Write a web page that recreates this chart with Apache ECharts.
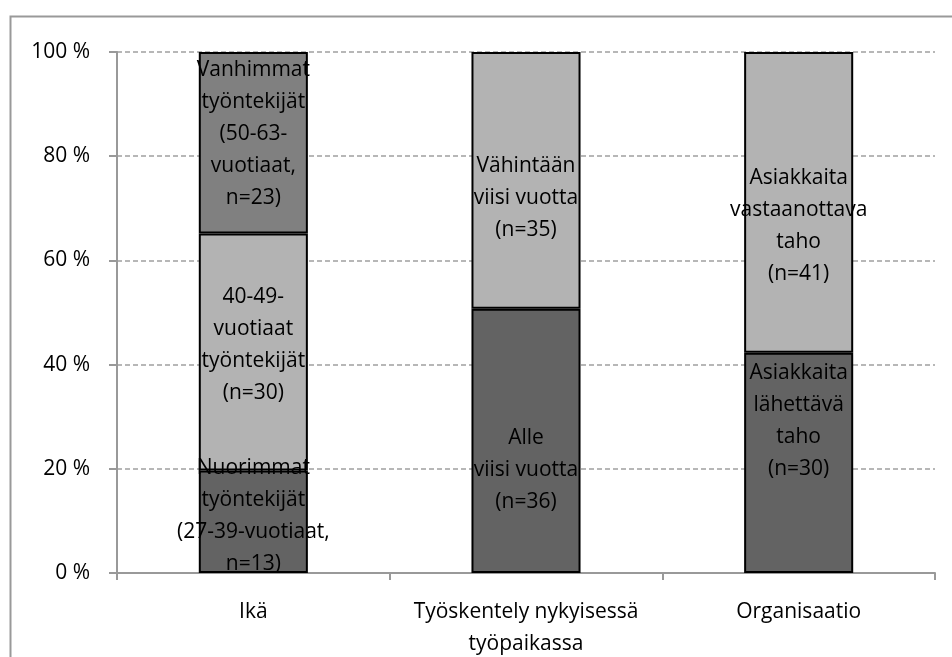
<!DOCTYPE html>
<html>
<head>
<meta charset="utf-8">
<script src="https://cdn.jsdelivr.net/npm/echarts@6/dist/echarts.min.js"></script>
<style>html,body{margin:0;padding:0;background:#fff}#c{width:952px;height:657px}</style>
</head>
<body>
<div id="c"></div>
<script>
const categories = ['Ikä', 'Työskentely nykyisessä\ntyöpaikassa', 'Organisaatio'];
// counts (n) per segment, bottom to top
const bottomCounts = [13, 36, 30];
const middleCounts = [30, 35, 41];
const topCounts = [23, null, null];
const bottomLabels = ['Nuorimmat\ntyöntekijät\n(27-39-vuotiaat,\nn=13)', 'Alle\nviisi vuotta\n(n=36)', 'Asiakkaita\nlähettävä\ntaho\n(n=30)'];
const middleLabels = ['40-49-\nvuotiaat\ntyöntekijät\n(n=30)', 'Vähintään\nviisi vuotta\n(n=35)', 'Asiakkaita\nvastaanottava\ntaho\n(n=41)'];
const topLabels = ['Vanhimmat\ntyöntekijät\n(50-63-\nvuotiaat,\nn=23)', null, null];
const yTicks = [0, 20, 40, 60, 80, 100];

// label nudges (px) to match manual placement
const bottomOffsets = [[0, -6], [0, 29], [0, -42]];
const middleOffsets = [[0, -7], [0, 18], [0, 24]];
const topOffsets = [[0, -9], [0, 0], [0, 0]];

const totals = categories.map((_, i) => (bottomCounts[i] || 0) + (middleCounts[i] || 0) + (topCounts[i] || 0));
const FONT = '"Open Sans", sans-serif';
const FS = 21;

function mk(counts, labels, offsets, color) {
  return {
    type: 'bar', stack: 's', barWidth: '40%',
    itemStyle: { color: color, borderColor: '#000', borderWidth: 2 },
    data: counts.map((c, i) => c == null ? null : {
      value: c / totals[i] * 100,
      label: { show: true, position: 'inside', formatter: labels[i], offset: offsets[i],
        color: '#000', fontFamily: FONT, fontSize: FS, lineHeight: 32, align: 'center' }
    }),
    emphasis: { disabled: true }
  };
}

const chart = echarts.init(document.getElementById('c'), null, { renderer: 'canvas' });
chart.setOption({
  animation: false,
  backgroundColor: '#fff',
  graphic: [{ type: 'rect', left: 8, top: 14, shape: { width: 1000, height: 1000 },
    style: { fill: 'none', stroke: '#999', lineWidth: 2 }, silent: true }],
  grid: { left: 117, right: 17, top: 52, bottom: 84, containLabel: false, outerBoundsMode: 'none' },
  xAxis: {
    type: 'category', data: categories,
    axisLine: { lineStyle: { color: '#999', width: 2 } },
    axisTick: { show: true, length: 7, alignWithLabel: false, lineStyle: { color: '#999', width: 2 } },
    axisLabel: { color: '#000', fontFamily: FONT, fontSize: FS, lineHeight: 32, margin: 23, interval: 0 }
  },
  yAxis: {
    type: 'value', min: yTicks[0], max: yTicks[yTicks.length - 1], interval: 20,
    axisLine: { show: true, lineStyle: { color: '#999', width: 2 } },
    axisTick: { show: true, inside: false, length: 8, lineStyle: { color: '#999', width: 2 } },
    axisLabel: { color: '#000', fontFamily: FONT, fontSize: FS, margin: 27, formatter: v => v + ' %' },
    splitLine: { show: true, lineStyle: { color: '#a0a0a0', type: [5, 3], width: 1.5 } }
  },
  series: [
    mk(bottomCounts, bottomLabels, bottomOffsets, '#636363'),
    mk(middleCounts, middleLabels, middleOffsets, '#b3b3b3'),
    mk(topCounts, topLabels, topOffsets, '#808080')
  ]
});
</script>
</body>
</html>
